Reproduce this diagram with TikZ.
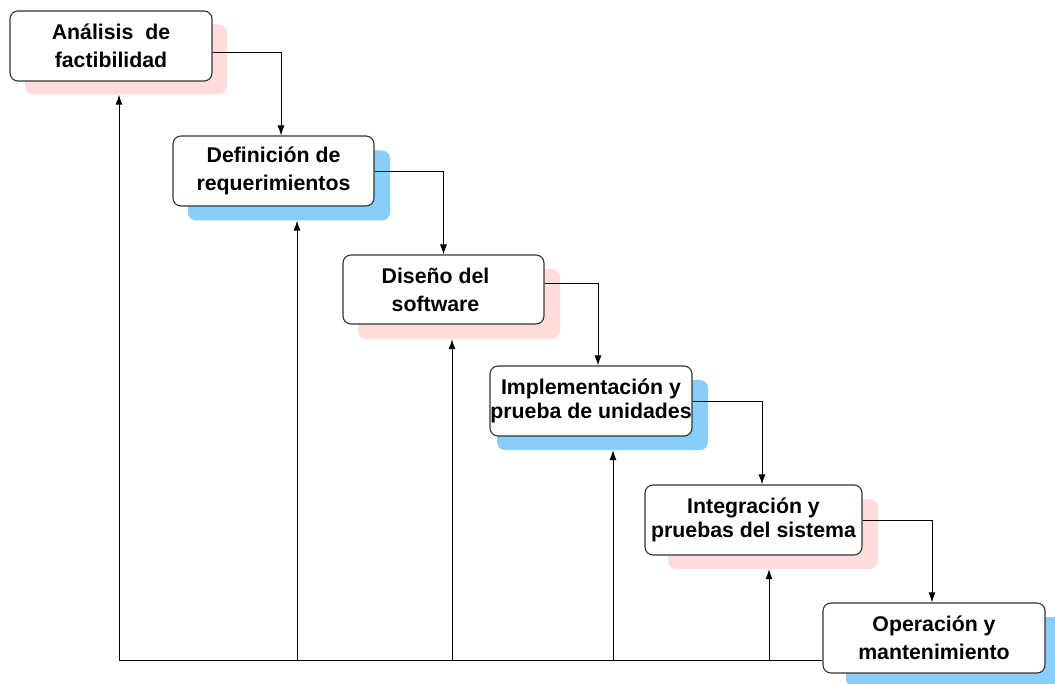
\documentclass[tikz,border=0pt]{standalone}
\usepackage{fontspec}
\setmainfont{Liberation Sans}
\usetikzlibrary{arrows.meta}
\definecolor{shpink}{HTML}{FFDDDD}
\definecolor{shblue}{HTML}{87CEFA}
\definecolor{edge}{HTML}{333333}
\tikzset{
  stagebox/.style={draw=edge, line width=1.1pt, fill=white, rounded corners=8pt,
    inner sep=0pt, minimum width=#1},
  stagebox/.default=202pt,
  shade/.style={rounded corners=8pt, inner sep=0pt, minimum height=70pt, minimum width=#1},
  shade/.default=202pt,
  stagetext/.style={inner sep=0pt, align=center, font=\fontsize{21.3}{28}\selectfont\bfseries},
  tight/.style={font=\fontsize{21.3}{24}\selectfont\bfseries},
  flow/.style={draw=black, line width=0.9pt},
  arr/.style={flow, -{Latex[length=10pt,width=7pt]}}
}
\begin{document}
\begin{tikzpicture}[x=1pt,y=-1pt]
\clip (0,0) rectangle (1055,684);
\fill[white] (0,0) rectangle (1055,684);

% drop shadows behind the stages
\node[shade, fill=shpink] (s1) at (126,59.5) {};
\node[shade, fill=shblue] (s2) at (289,185.5) {};
\node[shade, fill=shpink] (s3) at (459,304) {};
\node[shade=211pt, fill=shblue] (s4) at (602.5,415) {};
\node[shade=210pt, fill=shpink] (s5) at (773,534) {};
\node[shade=224pt, fill=shblue] (s6) at (958,652) {};

% stage boxes
\node[stagebox, minimum height=70pt] (b1) at (111,46) {};
\node[stagebox=201pt, minimum height=70pt] (b2) at (273.5,171) {};
\node[stagebox=201pt, minimum height=69pt] (b3) at (443.5,289.5) {};
\node[stagebox, minimum height=70pt] (b4) at (591,401) {};
\node[stagebox=217pt, minimum height=70pt] (b5) at (753.5,520) {};
\node[stagebox=222pt, minimum height=70pt] (b6) at (934,638) {};

% stage names
\node[stagetext] (t1) at (b1.center) {Análisis\ \ de\\factibilidad};
\node[stagetext] (t2) at (b2.center) {Definición de\\requerimientos};
\node[stagetext] (t3) at ([xshift=-8pt]b3.center) {Diseño del\\software};
\node[stagetext, tight] (t4) at (b4.center) {Implementación y\\prueba de unidades};
\node[stagetext, tight] (t5) at (b5.center) {Integración y\\pruebas del sistema};
\node[stagetext] (t6) at (b6.center) {Operación y\\mantenimiento};

% downward flow between stages
\draw[arr] ([yshift=-6pt]b1.east) -| ([xshift=7.5pt]b2.north);
\draw[arr] (b2.east) -| (b3.north);
\draw[arr] ([yshift=6.5pt]b3.east) -| ([xshift=7pt]b4.north);
\draw[arr] (b4.east) -| ([xshift=8.5pt]b5.north);
\draw[arr] (b5.east) -| ([xshift=-2pt]b6.north);

% feedback paths back to earlier stages
\coordinate (f1) at (119,660);
\coordinate (f2) at (297,660);
\coordinate (f3) at (452,660);
\coordinate (f4) at (613,660);
\coordinate (f5) at (769,660);
\draw[flow] ([yshift=-22pt]b6.west) -- (f1);
\draw[arr] (f1) -- (f1 |- s1.south);
\draw[arr] (f2) -- (f2 |- s2.south);
\draw[arr] (f3) -- (f3 |- s3.south);
\draw[arr] (f4) -- (f4 |- s4.south);
\draw[arr] (f5) -- (f5 |- s5.south);
\end{tikzpicture}
\end{document}
